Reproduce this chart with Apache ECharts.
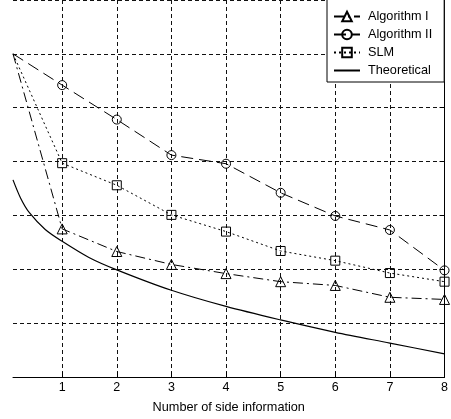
<!DOCTYPE html>
<html>
<head>
    <meta charset="UTF-8">
    <title>Number of side information</title>
    <script src="https://cdn.jsdelivr.net/npm/echarts@6/dist/echarts.min.js"></script>
    <style>
        html, body { margin: 0; padding: 0; background: #fff; }
    </style>
</head>
<body>
    <div id="main" style="width:451px;height:419px;"></div>
    <script type="text/javascript">
        // x positions (first point sits right at the left edge of the plot)
        var xPoints = [0.1, 1, 2, 3, 4, 5, 6, 7, 8];
        var alg1 = [6.0, 2.75, 2.33, 2.09, 1.92, 1.77, 1.70, 1.48, 1.44];
        var alg2 = [6.0, 5.42, 4.78, 4.12, 3.96, 3.42, 2.99, 2.73, 1.98];
        var slm = [6.0, 3.97, 3.56, 3.01, 2.70, 2.34, 2.16, 1.93, 1.77];
        // theoretical curve
        var theoX = [0.1, 0.24, 0.4, 0.69, 1, 1.49, 2, 3, 4, 5, 6, 7, 8];
        var theoY = [3.66, 3.32, 3.05, 2.74, 2.52, 2.22, 1.99, 1.61, 1.31, 1.06, 0.83, 0.63, 0.43];
        var xTicks = [1, 2, 3, 4, 5, 6, 7, 8];

        var FONT = '"Liberation Sans", Arial, sans-serif';

        function pairs(xs, ys, hideFirst) {
            var out = [];
            for (var i = 0; i < xs.length; i++) {
                if (hideFirst && i === 0) {
                    out.push({ value: [xs[i], ys[i]], symbol: 'none' });
                } else {
                    out.push([xs[i], ys[i]]);
                }
            }
            return out;
        }

        var gridLine = { show: true, lineStyle: { color: '#111', type: [4, 3], width: 1 } };
        var hollow = { color: 'rgba(0,0,0,0)', borderColor: '#000', borderWidth: 1 };

        var myChart = echarts.init(document.getElementById('main'));
        myChart.setOption({
            animation: false,
            backgroundColor: '#fff',
            grid: { left: 13, right: 2, top: -2, bottom: 42 },
            legend: {
                orient: 'vertical',
                left: 327,
                top: -6,
                padding: [16, 12, 5, 6],
                itemGap: 5,
                itemWidth: 26,
                itemHeight: 12,
                borderColor: '#000',
                borderWidth: 1,
                backgroundColor: '#fff',
                textStyle: { color: '#000', fontFamily: FONT, fontSize: 12.7, padding: [0, 0, 0, 3] },
                data: ['Algorithm I', 'Algorithm II', 'SLM', 'Theoretical']
            },
            xAxis: {
                type: 'value',
                min: 0.1,
                max: 8,
                name: 'Number of side information',
                nameLocation: 'middle',
                nameGap: 24,
                nameTextStyle: { color: '#000', fontFamily: FONT, fontSize: 12.7 },
                axisLine: { show: true, onZero: false, lineStyle: { color: '#000', width: 1 } },
                axisTick: { show: true, inside: true, length: 5, customValues: xTicks, lineStyle: { color: '#000' } },
                axisLabel: { color: '#000', fontFamily: FONT, fontSize: 12.5, margin: 4, customValues: xTicks },
                splitLine: gridLine
            },
            yAxis: {
                type: 'value',
                position: 'right',
                min: 0,
                max: 7,
                interval: 1,
                axisLine: { show: true, lineStyle: { color: '#000', width: 1 } },
                axisTick: { show: true, inside: true, length: 5, lineStyle: { color: '#000' } },
                axisLabel: { show: false },
                splitLine: gridLine
            },
            series: [
                {
                    name: 'Algorithm I',
                    type: 'line',
                    data: pairs(xPoints, alg1, true),
                    symbol: 'triangle',
                    symbolSize: 10,
                    itemStyle: hollow,
                    lineStyle: { color: '#000', width: 1, type: [10, 4, 2, 4] },
                    z: 3
                },
                {
                    name: 'Algorithm II',
                    type: 'line',
                    data: pairs(xPoints, alg2, true),
                    symbol: 'circle',
                    symbolSize: 9,
                    itemStyle: hollow,
                    lineStyle: { color: '#000', width: 1, type: [12, 6] },
                    z: 3
                },
                {
                    name: 'SLM',
                    type: 'line',
                    data: pairs(xPoints, slm, true),
                    symbol: 'rect',
                    symbolSize: 9,
                    itemStyle: hollow,
                    lineStyle: { color: '#000', width: 1, type: [2, 3] },
                    z: 3
                },
                {
                    name: 'Theoretical',
                    type: 'line',
                    data: pairs(theoX, theoY, false),
                    smooth: 0.3,
                    symbol: 'none',
                    itemStyle: { color: 'rgba(0,0,0,0)', borderWidth: 0 },
                    lineStyle: { color: '#000', width: 1.2, type: 'solid' },
                    z: 3
                }
            ]
        });
    </script>
</body>
</html>
